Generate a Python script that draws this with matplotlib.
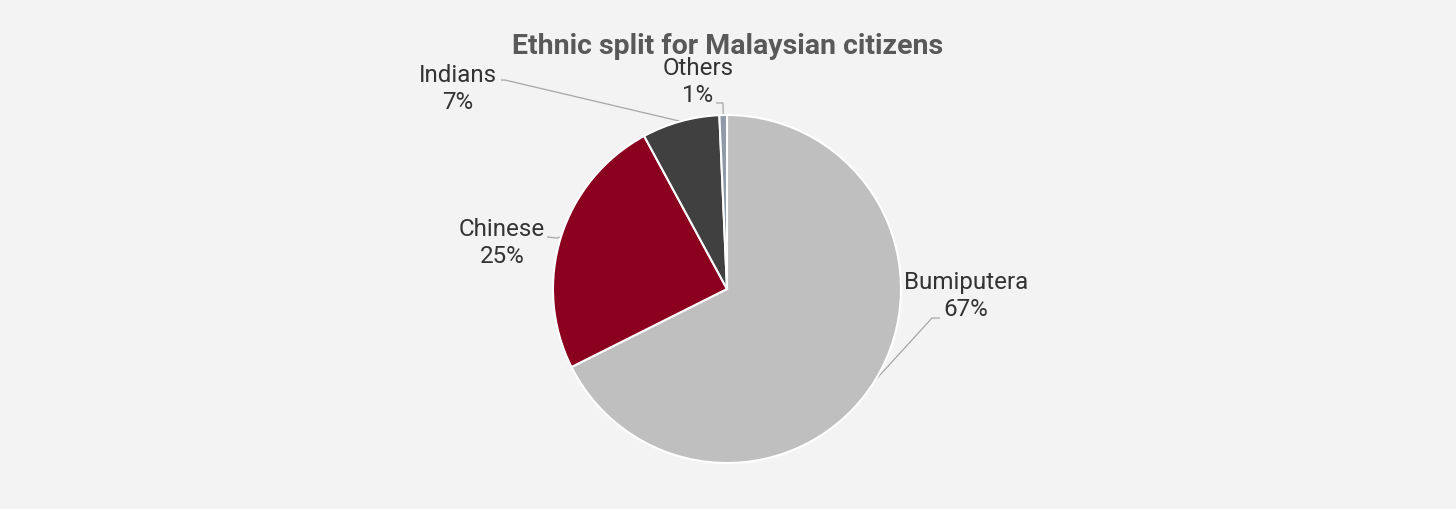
import numpy as np
import matplotlib
matplotlib.use('Agg')
import matplotlib.pyplot as plt

plt.rcParams['font.family'] = ['Roboto', 'DejaVu Sans']

# データ
labels = ['Bumiputera', 'Chinese', 'Indians', 'Others']
shares = [67.6, 24.5, 7.2, 0.7]
pct_text = ['67%', '25%', '7%', '1%']
colors = ['#BFBFBF', '#8B001E', '#404040', '#8E9AA8']

# ラベル位置 (円の半径=1 の座標系)
text_pos = [(1.374, -0.040), (-1.293, 0.264), (-1.546, 1.149), (-0.167, 1.190)]
elbow = [(1.178, -0.167), (-0.977, 0.293), (-1.276, 1.201), (-0.023, 1.069)]
line_end = [(1.224, -0.167), (-1.034, 0.299), (-1.299, 1.201), (-0.063, 1.069)]

bg = '#F3F3F3'
fig = plt.figure(figsize=(14.56, 5.09), dpi=100, facecolor=bg)
ax = fig.add_axes([0, 0, 1, 1])
ax.set_facecolor(bg)

wedges, _ = ax.pie(shares, colors=colors, startangle=90, counterclock=False,
                   radius=1, center=(0, 0),
                   wedgeprops=dict(edgecolor='white', linewidth=1.5))

# 引き出し線とラベル
for w, lab, pct, tp, el, le in zip(wedges, labels, pct_text, text_pos, elbow, line_end):
    ang = np.deg2rad((w.theta1 + w.theta2) / 2)
    sx, sy = np.cos(ang), np.sin(ang)
    ax.plot([sx, el[0], le[0]], [sy, el[1], le[1]], color='#A6A6A6', lw=0.9,
            solid_capstyle='butt', zorder=0.5)
    ax.text(tp[0], tp[1], lab + '\n' + pct, ha='center', va='center',
            fontsize=17.4, color='#333333', linespacing=1.2)

ax.set_aspect('equal')
ax.set_xlim(-727 / 174, (1456 - 727) / 174)
ax.set_ylim((289 - 509) / 174, 289 / 174)
ax.axis('off')

fig.text(0.5, 1 - 47 / 509, 'Ethnic split for Malaysian citizens', ha='center', va='center',
         fontsize=20.5, fontweight='bold', color='#595959')

fig.savefig('out.png', dpi=100, facecolor=bg)
